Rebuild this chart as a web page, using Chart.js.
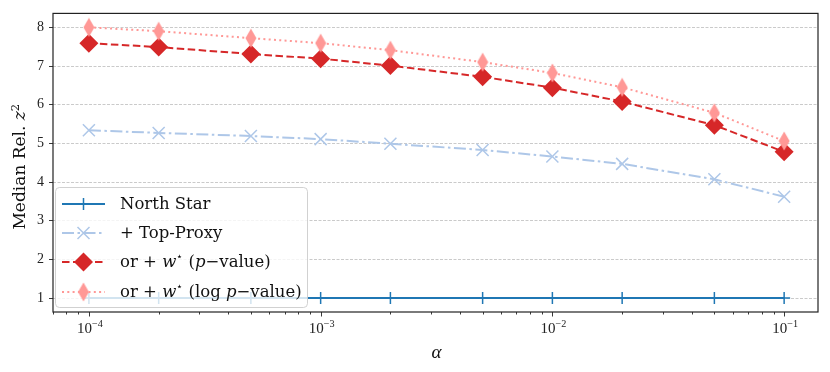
<!DOCTYPE html>
<html>
<head>
<meta charset="utf-8">
<script src="https://cdn.jsdelivr.net/npm/chart.js@4.4.0/dist/chart.umd.min.js"></script>
<style>
  body { margin: 0; background: #fff; }
</style>
</head>
<body>
<canvas id="chart" width="830" height="372"></canvas>
<script>
// data
const alphas = [1e-4, 2e-4, 5e-4, 1e-3, 2e-3, 5e-3, 1e-2, 2e-2, 5e-2, 1e-1];
const northStar = [1, 1, 1, 1, 1, 1, 1, 1, 1, 1];
const topProxy = [5.34, 5.27, 5.19, 5.11, 4.99, 4.83, 4.66, 4.47, 4.07, 3.62];
const wStarP = [7.59, 7.49, 7.31, 7.19, 7.01, 6.72, 6.44, 6.08, 5.47, 4.78];
const wStarLogP = [8.0, 7.9, 7.72, 7.59, 7.41, 7.1, 6.82, 6.45, 5.79, 5.06];
const xDecades = [-4, -3, -2, -1];
const yTicks = [1, 2, 3, 4, 5, 6, 7, 8];

const SERIF = "'Liberation Serif', 'DejaVu Serif', serif";
const WIDE_SERIF = "'DejaVu Serif', 'Liberation Serif', serif";
const BLUE = '#1f77b4', LIGHTBLUE = '#aec7e8', RED = '#d62728', PINK = '#ff9896';

const toPoints = (ys) => alphas.map((a, i) => ({ x: a, y: ys[i] }));

// matplotlib 'd' marker (thin diamond)
const thinDiamond = (color) => {
    const c = document.createElement('canvas');
    c.width = 12; c.height = 20;
    const g = c.getContext('2d');
    g.fillStyle = color;
    g.beginPath();
    g.moveTo(6, 0.5); g.lineTo(11.5, 10); g.lineTo(6, 19.5); g.lineTo(0.5, 10);
    g.closePath(); g.fill();
    return c;
};
const pinkDiamond = thinDiamond(PINK);

// draw text made of pieces (regular / italic / superscript)
const drawRich = (ctx, parts, x, y, size, family) => {
    let cx = x;
    parts.forEach(p => {
        const s = p.sup ? size * 0.68 : size;
        ctx.font = `${p.it ? 'italic ' : ''}${s}px ${family}`;
        ctx.fillText(p.t, cx, p.sup ? y - size * 0.38 : y);
        cx += ctx.measureText(p.t).width;
    });
    return cx - x;
};
const richWidth = (ctx, parts, size, family) => {
    let w = 0;
    parts.forEach(p => {
        const s = p.sup ? size * 0.68 : size;
        ctx.font = `${p.it ? 'italic ' : ''}${s}px ${family}`;
        w += ctx.measureText(p.t).width;
    });
    return w;
};

const drawMarker = (ctx, kind, x, y, color) => {
    ctx.save();
    ctx.setLineDash([]);
    ctx.strokeStyle = color;
    ctx.fillStyle = color;
    ctx.lineWidth = 1.5;
    ctx.beginPath();
    if (kind === 'plus') {
        ctx.moveTo(x, y - 6); ctx.lineTo(x, y + 6);
        ctx.moveTo(x - 6, y); ctx.lineTo(x + 6, y);
        ctx.stroke();
    } else if (kind === 'x') {
        ctx.moveTo(x - 6, y - 6); ctx.lineTo(x + 6, y + 6);
        ctx.moveTo(x + 6, y - 6); ctx.lineTo(x - 6, y + 6);
        ctx.stroke();
    } else if (kind === 'D') {
        ctx.moveTo(x, y - 9.5); ctx.lineTo(x + 9.5, y); ctx.lineTo(x, y + 9.5); ctx.lineTo(x - 9.5, y);
        ctx.closePath(); ctx.fill();
    } else {
        ctx.drawImage(pinkDiamond, x - 6, y - 10);
    }
    ctx.restore();
};

const legendItems = [
    { color: BLUE, dash: [], marker: 'plus', parts: [{ t: 'North Star' }] },
    { color: LIGHTBLUE, dash: [12, 3.5, 2.5, 3.5], marker: 'x', parts: [{ t: '+ Top-Proxy' }] },
    { color: RED, dash: [7.5, 3.5], marker: 'D',
      parts: [{ t: 'or + ' }, { t: 'w', it: true }, { t: '\u22C6', sup: true }, { t: ' (' }, { t: 'p', it: true }, { t: '\u2212value)' }] },
    { color: PINK, dash: [2, 3.3], marker: 'd',
      parts: [{ t: 'or + ' }, { t: 'w', it: true }, { t: '\u22C6', sup: true }, { t: ' (log ' }, { t: 'p', it: true }, { t: '\u2212value)' }] }
];

const decorPlugin = {
    id: 'decor',
    afterDatasetsDraw(chart) {
        const ctx = chart.ctx;
        const area = chart.chartArea;
        const xs = chart.scales.x;

        ctx.save();
        // frame
        ctx.strokeStyle = '#222';
        ctx.lineWidth = 1.2;
        ctx.setLineDash([]);
        ctx.strokeRect(area.left, area.top, area.right - area.left, area.bottom - area.top);

        // x ticks: major + minor
        ctx.beginPath();
        for (let d = -5; d <= 0; d++) {
            for (let k = 1; k <= 9; k++) {
                const v = k * Math.pow(10, d);
                if (v < xs.min || v > xs.max) continue;
                const px = Math.round(xs.getPixelForValue(v)) + 0.5;
                const len = k === 1 ? 4.5 : 2.5;
                ctx.moveTo(px, area.bottom);
                ctx.lineTo(px, area.bottom + len);
            }
        }
        ctx.lineWidth = 0.9;
        ctx.stroke();

        // x tick labels 10^d
        ctx.fillStyle = '#222';
        ctx.textBaseline = 'alphabetic';
        xDecades.forEach(d => {
            const px = xs.getPixelForValue(Math.pow(10, d));
            const parts = [{ t: '10' }, { t: '\u2212' + Math.abs(d), sup: true }];
            const w = richWidth(ctx, parts, 15, SERIF);
            drawRich(ctx, parts, px - w / 2 + 1, 333, 15, SERIF);
        });

        // axis titles
        ctx.fillStyle = '#111';
        ctx.font = `italic 19px ${SERIF}`;
        ctx.textAlign = 'center';
        ctx.fillText('\u03B1', (area.left + area.right) / 2 + 1, 358);
        ctx.textAlign = 'left';

        const yParts = [{ t: 'Median Rel. ' }, { t: 'z', it: true }, { t: '2', sup: true }];
        ctx.save();
        ctx.translate(25, (area.top + area.bottom) / 2 + 4);
        ctx.rotate(-Math.PI / 2);
        const yw = richWidth(ctx, yParts, 17, WIDE_SERIF);
        drawRich(ctx, yParts, -yw / 2, 0, 17, WIDE_SERIF);
        ctx.restore();

        // legend
        const lx = 55.5, ly = 187.5, lw = 252, lh = 120;
        ctx.beginPath();
        ctx.roundRect(lx, ly, lw, lh, 4);
        ctx.fillStyle = 'rgba(255,255,255,0.8)';
        ctx.fill();
        ctx.strokeStyle = 'rgba(204,204,204,0.9)';
        ctx.lineWidth = 1;
        ctx.stroke();

        const rows = [204, 233, 262, 292];
        legendItems.forEach((item, i) => {
            const y = rows[i];
            ctx.beginPath();
            ctx.setLineDash(item.dash);
            ctx.strokeStyle = item.color;
            ctx.lineWidth = 2;
            ctx.moveTo(62, y);
            ctx.lineTo(105, y);
            ctx.stroke();
            ctx.setLineDash([]);
            drawMarker(ctx, item.marker, 83.5, y, item.color);
            ctx.fillStyle = '#111';
            ctx.textBaseline = 'middle';
            drawRich(ctx, item.parts, 120, y + 1, 16.5, WIDE_SERIF);
            ctx.textBaseline = 'alphabetic';
        });
        ctx.restore();
    }
};

new Chart(document.getElementById('chart'), {
    type: 'line',
    data: {
        datasets: [
            {
                label: 'North Star',
                data: toPoints(northStar),
                borderColor: BLUE,
                borderWidth: 2,
                pointStyle: 'cross',
                pointRadius: 6,
                pointBorderWidth: 1.5,
                pointBorderColor: BLUE,
                order: 3
            },
            {
                label: '+ Top-Proxy',
                data: toPoints(topProxy),
                borderColor: LIGHTBLUE,
                borderWidth: 2,
                borderDash: [12, 3.5, 2.5, 3.5],
                pointStyle: 'crossRot',
                pointRadius: 8.5,
                pointBorderWidth: 1.5,
                pointBorderColor: LIGHTBLUE,
                order: 2
            },
            {
                label: 'or + w* (p-value)',
                data: toPoints(wStarP),
                borderColor: RED,
                borderWidth: 2,
                borderDash: [7.5, 3.5],
                pointStyle: 'rectRot',
                pointRadius: 9.5,
                pointBorderWidth: 0,
                pointBackgroundColor: RED,
                order: 1
            },
            {
                label: 'or + w* (log p-value)',
                data: toPoints(wStarLogP),
                borderColor: PINK,
                borderWidth: 2,
                borderDash: [2, 3.3],
                pointStyle: pinkDiamond,
                pointRadius: 10,
                order: 0
            }
        ]
    },
    options: {
        responsive: false,
        animation: false,
        devicePixelRatio: 1,
        layout: { padding: { left: 0, right: 11, top: 10, bottom: 0 } },
        plugins: {
            legend: { display: false },
            tooltip: { enabled: false }
        },
        scales: {
            x: {
                type: 'logarithmic',
                min: 7.15e-5,
                max: 0.14,
                grid: { display: false },
                ticks: { display: false },
                border: { display: false },
                afterFit: (scale) => { scale.height = 60; }
            },
            y: {
                type: 'linear',
                min: 0.64,
                max: 8.36,
                afterBuildTicks: (scale) => { scale.ticks = yTicks.map(v => ({ value: v })); },
                ticks: {
                    includeBounds: false,
                    padding: 5,
                    color: '#222',
                    font: { family: SERIF, size: 14 }
                },
                grid: {
                    color: '#bdbdbd',
                    lineWidth: 0.8,
                    tickColor: '#222',
                    tickLength: 4,
                    tickWidth: 0.9,
                    tickBorderDash: []
                },
                border: { display: false, dash: [3, 1.5] },
                afterFit: (scale) => { scale.width = 53; }
            }
        }
    },
    plugins: [decorPlugin]
});
</script>
</body>
</html>
